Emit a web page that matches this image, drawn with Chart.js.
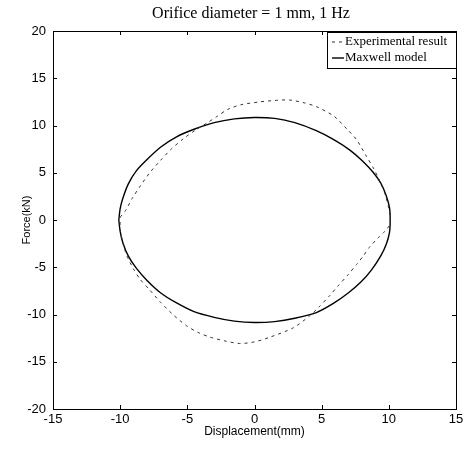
<!DOCTYPE html>
<html>
<head>
<meta charset="utf-8">
<title>Orifice diameter = 1 mm, 1 Hz</title>
<script src="https://cdn.jsdelivr.net/npm/chart.js@4/dist/chart.umd.min.js"></script>
<style>
    html, body { margin: 0; padding: 0; background: #ffffff; }
    .chart-wrap { position: relative; width: 469px; height: 457px; }
</style>
</head>
<body>
<div class="chart-wrap">
    <canvas id="loopChart" width="469" height="457"></canvas>
</div>
<script>
// Axis ticks
const xTicks = [-15, -10, -5, 0, 5, 10, 15];
const yTicks = [-20, -15, -10, -5, 0, 5, 10, 15, 20];

// Maxwell model loop (displacement mm, force kN)
const maxwellX = [-10.1, -10.0, -9.8, -9.4, -8.8, -8.0, -7.0, -5.8, -4.5, -3.0, -1.5, 0.0, 1.5, 3.0, 4.6, 5.9, 7.1, 8.0, 8.8, 9.4, 9.8, 10.05, 10.1,
                  10.05, 9.8, 9.4, 8.7, 7.9, 7.0, 5.9, 4.6, 3.0, 1.5, 0.0, -1.5, -3.0, -4.5, -5.9, -7.0, -8.0, -8.8, -9.4, -9.8, -10.0, -10.1];
const maxwellY = [0.0, 1.2, 2.3, 3.8, 5.2, 6.4, 7.7, 8.8, 9.6, 10.3, 10.7, 10.85, 10.75, 10.3, 9.45, 8.5, 7.4, 6.3, 5.1, 3.9, 2.6, 1.3, 0.0,
                  -1.3, -2.6, -3.8, -5.3, -6.6, -7.7, -8.8, -9.8, -10.4, -10.75, -10.85, -10.7, -10.3, -9.7, -8.7, -7.7, -6.4, -5.1, -3.8, -2.4, -1.2, 0.0];

// Experimental result loop
const expX = [-10.0, -9.6, -9.1, -8.5, -7.8, -7.0, -6.2, -5.3, -4.4, -3.5, -2.8, -2.0, -1.0, 0.4, 1.5, 2.6, 3.7, 4.6, 5.9, 6.9, 7.6, 8.35, 8.85, 9.3, 9.7, 10.0, 10.1,
              9.7, 9.2, 8.6, 8.1, 7.6, 6.9, 6.2, 5.6, 4.8, 4.1, 2.9, 1.15, 0.0, -1.1, -2.2, -3.3, -4.2, -5.05, -6.0, -7.0, -7.8, -8.5, -9.0, -9.5, -9.8, -10.0, -10.0];
const expY = [0.3, 1.0, 2.3, 3.6, 5.0, 6.3, 7.5, 8.6, 9.5, 10.3, 10.95, 11.7, 12.2, 12.5, 12.65, 12.7, 12.4, 12.0, 11.0, 9.6, 8.5, 6.7, 5.5, 4.2, 2.8, 1.2, -0.4,
              -1.2, -1.9, -2.8, -3.8, -4.7, -5.9, -7.0, -8.0, -9.2, -10.15, -11.4, -12.4, -12.9, -13.07, -12.8, -12.4, -11.9, -11.2, -10.1, -8.7, -7.4, -6.3, -5.2, -3.8, -2.4, -1.0, 0.3];

const seriesNames = ['Experimental result', 'Maxwell model'];
const chartTitle = 'Orifice diameter = 1 mm, 1 Hz';

const sansFont = "'Liberation Sans Narrow', 'Liberation Sans', Arial, sans-serif";
const serifFont = "'Liberation Serif', 'Times New Roman', serif";

function toPoints(xs, ys) {
    return xs.map((x, i) => ({ x: x, y: ys[i] }));
}

// Box frame, inward ticks on all sides, title and legend (MATLAB look)
const matlabFrame = {
    id: 'matlabFrame',
    afterDraw(chart) {
        const ctx = chart.ctx;
        const area = chart.chartArea;
        const xs = chart.scales.x;
        const ys = chart.scales.y;
        const tick = 4;

        ctx.save();
        ctx.strokeStyle = '#000';
        ctx.lineWidth = 1;
        ctx.strokeRect(area.left + 0.5, area.top + 0.5, area.right - area.left, area.bottom - area.top);

        ctx.beginPath();
        xs.ticks.forEach(t => {
            const px = Math.round(xs.getPixelForValue(t.value)) + 0.5;
            ctx.moveTo(px, area.bottom); ctx.lineTo(px, area.bottom - tick);
            ctx.moveTo(px, area.top); ctx.lineTo(px, area.top + tick);
        });
        ys.ticks.forEach(t => {
            const py = Math.round(ys.getPixelForValue(t.value)) + 0.5;
            ctx.moveTo(area.left, py); ctx.lineTo(area.left + tick, py);
            ctx.moveTo(area.right, py); ctx.lineTo(area.right - tick, py);
        });
        ctx.stroke();

        // Title
        ctx.fillStyle = '#000';
        ctx.font = '16px ' + serifFont;
        ctx.textAlign = 'center';
        ctx.textBaseline = 'middle';
        ctx.fillText(chartTitle, 251, 14);

        // Legend box in the top right corner
        const bx = 327, by = 32, bw = 129, bh = 36;
        ctx.fillStyle = '#fff';
        ctx.fillRect(bx, by, bw, bh);
        ctx.strokeRect(bx + 0.5, by + 0.5, bw, bh);
        ctx.font = '13px ' + serifFont;
        ctx.textAlign = 'left';
        ctx.fillStyle = '#000';
        chart.data.datasets.forEach((ds, i) => {
            const ly = by + 10 + i * 16;
            ctx.beginPath();
            ctx.strokeStyle = ds.borderColor;
            ctx.lineWidth = ds.borderWidth;
            ctx.setLineDash(ds.borderDash || []);
            ctx.moveTo(bx + 5, ly);
            ctx.lineTo(bx + 17, ly);
            ctx.stroke();
            ctx.setLineDash([]);
            ctx.fillText(ds.label, bx + 18, ly);
        });
        ctx.restore();
    }
};

document.addEventListener('DOMContentLoaded', function() {
    const ctx = document.getElementById('loopChart').getContext('2d');
    new Chart(ctx, {
        type: 'scatter',
        data: {
            datasets: [{
                label: seriesNames[0],
                data: toPoints(expX, expY),
                showLine: true,
                borderColor: '#333',
                borderWidth: 1,
                borderDash: [3, 4],
                pointRadius: 0,
                tension: 0.25
            }, {
                label: seriesNames[1],
                data: toPoints(maxwellX, maxwellY),
                showLine: true,
                borderColor: '#000',
                borderWidth: 1.4,
                pointRadius: 0,
                tension: 0.25
            }]
        },
        options: {
            responsive: false,
            animation: false,
            layout: { padding: { top: 31, right: 13, left: 0, bottom: 0 } },
            plugins: {
                legend: { display: false },
                title: { display: false },
                tooltip: { enabled: false }
            },
            scales: {
                x: {
                    type: 'linear',
                    min: xTicks[0],
                    max: xTicks[xTicks.length - 1],
                    afterBuildTicks: axis => { axis.ticks = xTicks.map(v => ({ value: v })); },
                    afterFit: axis => { axis.height = 48; },
                    grid: { display: false, drawTicks: false },
                    border: { display: false },
                    ticks: { color: '#000', padding: 3, font: { family: sansFont, size: 13 } },
                    title: {
                        display: true,
                        text: 'Displacement(mm)',
                        color: '#000',
                        padding: { top: 1, bottom: 18 },
                        font: { family: sansFont, size: 12 }
                    }
                },
                y: {
                    type: 'linear',
                    min: yTicks[0],
                    max: yTicks[yTicks.length - 1],
                    afterBuildTicks: axis => { axis.ticks = yTicks.map(v => ({ value: v })); },
                    afterFit: axis => { axis.width = 53; },
                    grid: { display: false, drawTicks: false },
                    border: { display: false },
                    ticks: { color: '#000', padding: 7, font: { family: sansFont, size: 13 } },
                    title: {
                        display: true,
                        text: 'Force(kN)',
                        color: '#000',
                        padding: { top: 20, bottom: 0 },
                        font: { family: sansFont, size: 11 }
                    }
                }
            }
        },
        plugins: [matlabFrame]
    });
});
</script>
</body>
</html>
